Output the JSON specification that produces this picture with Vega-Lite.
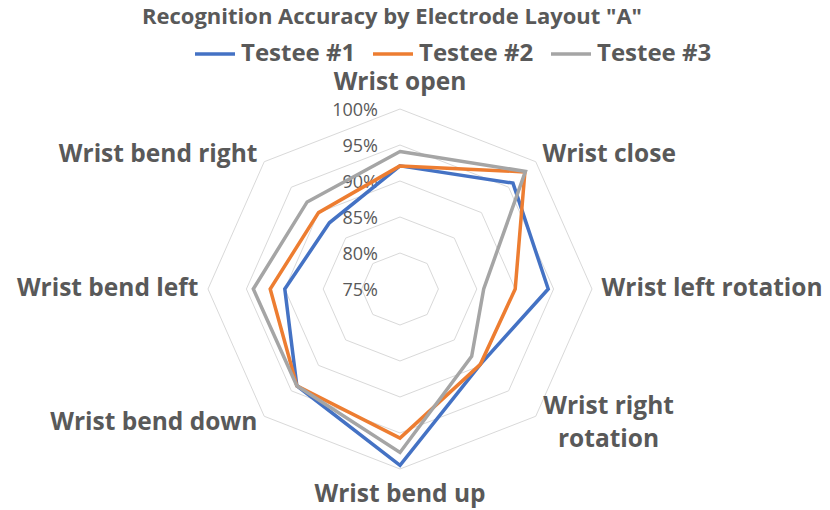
{
  "$schema": "https://vega.github.io/schema/vega-lite/v6.json",
  "width": 830,
  "height": 440,
  "autosize": {"type": "none"},
  "padding": {"top": 70, "left": 0, "right": 0, "bottom": 0},
  "background": "white",
  "config": {"view": {"stroke": null}, "font": "Open Sans"},
  "title": {
    "text": "Recognition Accuracy by Electrode Layout \"A\"",
    "fontSize": 22,
    "fontWeight": "bold",
    "color": "#595959",
    "font": "Open Sans",
    "anchor": "middle",
    "frame": "group",
    "offset": 3,
    "dx": -23
  },
  "datasets": {
    "acc": [
      {"move": "Wrist open", "i": 0, "testee": "Testee #1", "acc": 92.1},
      {"move": "Wrist close", "i": 1, "testee": "Testee #1", "acc": 95.8},
      {"move": "Wrist left rotation", "i": 2, "testee": "Testee #1", "acc": 94.3},
      {"move": "Wrist right rotation", "i": 3, "testee": "Testee #1", "acc": 89.8},
      {"move": "Wrist bend up", "i": 4, "testee": "Testee #1", "acc": 99.5},
      {"move": "Wrist bend down", "i": 5, "testee": "Testee #1", "acc": 94.0},
      {"move": "Wrist bend left", "i": 6, "testee": "Testee #1", "acc": 90.0},
      {"move": "Wrist bend right", "i": 7, "testee": "Testee #1", "acc": 88.0},
      {"move": "Wrist open", "i": 0, "testee": "Testee #2", "acc": 92.1},
      {"move": "Wrist close", "i": 1, "testee": "Testee #2", "acc": 98.0},
      {"move": "Wrist left rotation", "i": 2, "testee": "Testee #2", "acc": 90.0},
      {"move": "Wrist right rotation", "i": 3, "testee": "Testee #2", "acc": 89.8},
      {"move": "Wrist bend up", "i": 4, "testee": "Testee #2", "acc": 95.7},
      {"move": "Wrist bend down", "i": 5, "testee": "Testee #2", "acc": 94.0},
      {"move": "Wrist bend left", "i": 6, "testee": "Testee #2", "acc": 91.9},
      {"move": "Wrist bend right", "i": 7, "testee": "Testee #2", "acc": 90.0},
      {"move": "Wrist open", "i": 0, "testee": "Testee #3", "acc": 94.1},
      {"move": "Wrist close", "i": 1, "testee": "Testee #3", "acc": 98.1},
      {"move": "Wrist left rotation", "i": 2, "testee": "Testee #3", "acc": 85.9},
      {"move": "Wrist right rotation", "i": 3, "testee": "Testee #3", "acc": 88.2},
      {"move": "Wrist bend up", "i": 4, "testee": "Testee #3", "acc": 97.7},
      {"move": "Wrist bend down", "i": 5, "testee": "Testee #3", "acc": 94.0},
      {"move": "Wrist bend left", "i": 6, "testee": "Testee #3", "acc": 94.1},
      {"move": "Wrist bend right", "i": 7, "testee": "Testee #3", "acc": 92.1}
    ],
    "axes": [
      {"move": "Wrist open", "i": 0, "levels": [80, 85, 90, 95, 100]},
      {"move": "Wrist close", "i": 1, "levels": [80, 85, 90, 95, 100]},
      {"move": "Wrist left rotation", "i": 2, "levels": [80, 85, 90, 95, 100]},
      {"move": "Wrist right\nrotation", "i": 3, "levels": [80, 85, 90, 95, 100]},
      {"move": "Wrist bend up", "i": 4, "levels": [80, 85, 90, 95, 100]},
      {"move": "Wrist bend down", "i": 5, "levels": [80, 85, 90, 95, 100]},
      {"move": "Wrist bend left", "i": 6, "levels": [80, 85, 90, 95, 100]},
      {"move": "Wrist bend right", "i": 7, "levels": [80, 85, 90, 95, 100]}
    ],
    "ticks": [
      {"v": 75, "label": "75%"},
      {"v": 80, "label": "80%"},
      {"v": 85, "label": "85%"},
      {"v": 90, "label": "90%"},
      {"v": 95, "label": "95%"},
      {"v": 100, "label": "100%"}
    ]
  },
  "encoding": {
    "x": {"field": "px", "type": "quantitative", "scale": {"domain": [-2.0833, 2.2396], "nice": false, "zero": false}, "axis": null},
    "y": {"field": "py", "type": "quantitative", "scale": {"domain": [-1.2278, 1.2167], "nice": false, "zero": false}, "axis": null}
  },
  "layer": [
    {
      "data": {"name": "axes"},
      "transform": [
        {"flatten": ["levels"]},
        {"calculate": "(datum.levels - 75) / 25", "as": "r"},
        {"calculate": "datum.r * sin(datum.i * PI / 4)", "as": "px"},
        {"calculate": "datum.r * cos(datum.i * PI / 4)", "as": "py"}
      ],
      "mark": {"type": "line", "interpolate": "linear-closed", "stroke": "#d9d9d9", "strokeWidth": 1},
      "encoding": {
        "detail": {"field": "levels", "type": "nominal"},
        "order": {"field": "i", "type": "quantitative"}
      }
    },
    {
      "data": {"name": "ticks"},
      "transform": [
        {"calculate": "(datum.v - 75) / 25", "as": "py"},
        {"calculate": "0", "as": "px"}
      ],
      "mark": {"type": "text", "align": "right", "baseline": "middle", "dx": -22, "dy": 2, "fontSize": 18, "color": "#595959", "font": "Open Sans"},
      "encoding": {"text": {"field": "label", "type": "nominal"}}
    },
    {
      "data": {"name": "acc"},
      "transform": [
        {"calculate": "(datum.acc - 75) / 25", "as": "r"},
        {"calculate": "datum.r * sin(datum.i * PI / 4)", "as": "px"},
        {"calculate": "datum.r * cos(datum.i * PI / 4)", "as": "py"}
      ],
      "mark": {"type": "line", "interpolate": "linear-closed", "strokeWidth": 3.5, "strokeJoin": "miter"},
      "encoding": {
        "color": {
          "field": "testee",
          "type": "nominal",
          "scale": {"domain": ["Testee #1", "Testee #2", "Testee #3"], "range": ["#4472C4", "#ED7D31", "#A5A5A5"]},
          "legend": {
            "orient": "none",
            "legendX": 193,
            "legendY": -38,
            "direction": "horizontal",
            "title": null,
            "symbolType": "stroke",
            "symbolSize": 1600,
            "symbolStrokeWidth": 3.5,
            "labelFontSize": 24,
            "labelFont": "Open Sans",
            "labelFontWeight": "bold",
            "labelColor": "#595959",
            "columnPadding": 10,
            "labelOffset": 4
          }
        },
        "order": {"field": "i", "type": "quantitative"}
      }
    },
    {
      "data": {"name": "axes"},
      "transform": [
        {"filter": "datum.i == 0 || datum.i == 4"},
        {"calculate": "1.145 * sin(datum.i * PI / 4)", "as": "px"},
        {"calculate": "1.145 * cos(datum.i * PI / 4)", "as": "py"}
      ],
      "mark": {"type": "text", "align": "center", "baseline": "middle", "fontSize": 24.5, "fontWeight": "bold", "color": "#595959", "font": "Open Sans"},
      "encoding": {"text": {"field": "move", "type": "nominal"}}
    },
    {
      "data": {"name": "axes"},
      "transform": [
        {"filter": "datum.i == 1 || datum.i == 2"},
        {"calculate": "1.05 * sin(datum.i * PI / 4)", "as": "px"},
        {"calculate": "1.05 * cos(datum.i * PI / 4)", "as": "py"}
      ],
      "mark": {"type": "text", "align": "left", "baseline": "middle", "fontSize": 24.5, "fontWeight": "bold", "color": "#595959", "font": "Open Sans"},
      "encoding": {"text": {"field": "move", "type": "nominal"}}
    },
    {
      "data": {"name": "axes"},
      "transform": [
        {"filter": "datum.i == 3"},
        {"calculate": "1.05 * sin(datum.i * PI / 4)", "as": "px"},
        {"calculate": "1.05 * cos(datum.i * PI / 4)", "as": "py"}
      ],
      "mark": {"type": "text", "align": "center", "baseline": "middle", "dx": 66, "dy": -16, "lineBreak": "\n", "lineHeight": 33, "fontSize": 24.5, "fontWeight": "bold", "color": "#595959", "font": "Open Sans"},
      "encoding": {"text": {"field": "move", "type": "nominal"}}
    },
    {
      "data": {"name": "axes"},
      "transform": [
        {"filter": "datum.i >= 5"},
        {"calculate": "1.05 * sin(datum.i * PI / 4)", "as": "px"},
        {"calculate": "1.05 * cos(datum.i * PI / 4)", "as": "py"}
      ],
      "mark": {"type": "text", "align": "right", "baseline": "middle", "fontSize": 24.5, "fontWeight": "bold", "color": "#595959", "font": "Open Sans"},
      "encoding": {"text": {"field": "move", "type": "nominal"}}
    }
  ]
}
